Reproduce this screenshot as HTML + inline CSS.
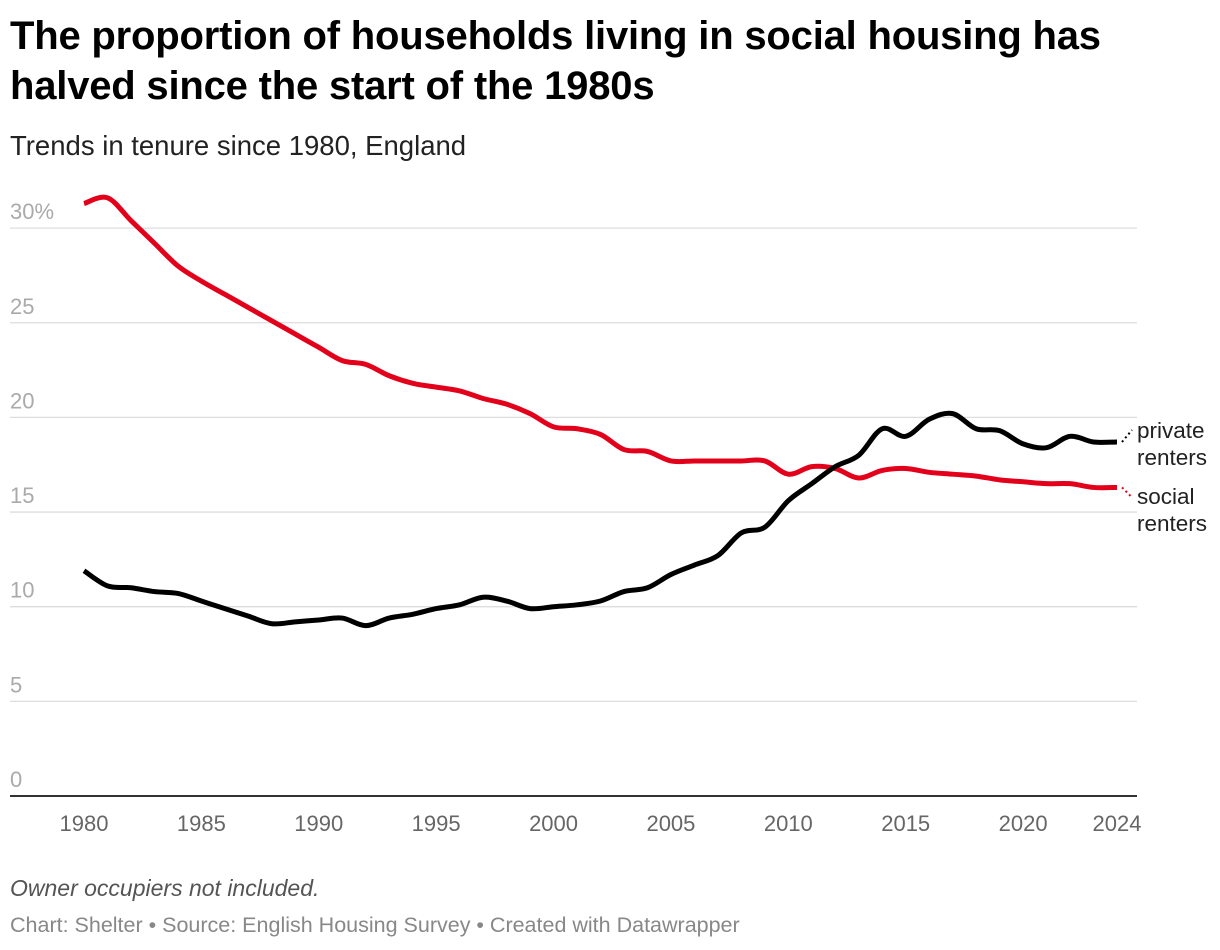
<!DOCTYPE html>
<html><head><meta charset="utf-8"><style>
body{margin:0;background:#fff;font-family:"Liberation Sans",sans-serif;}
#wrap{position:relative;width:1220px;height:950px;overflow:hidden;}
h1{position:absolute;left:10px;top:11px;margin:0;font-size:40px;line-height:50px;font-weight:bold;color:#000;width:1150px;letter-spacing:-0.2px}
.sub{position:absolute;left:10px;top:130px;font-size:27.5px;color:#222}
.note{position:absolute;left:10px;top:875px;font-size:23px;font-style:italic;color:#555}
.src{position:absolute;left:10px;top:913px;font-size:21.5px;color:#888}
svg{position:absolute;left:0;top:0}
</style></head><body><div id="wrap">
<h1>The proportion of households living in social housing has halved since the start of the 1980s</h1>
<div class="sub">Trends in tenure since 1980, England</div>
<svg id="svg" width="1220" height="950"></svg>
<div class="note">Owner occupiers not included.</div>
<div class="src">Chart: Shelter • Source: English Housing Survey • Created with Datawrapper</div>
</div>
<script>
const years=[1980,1981,1982,1983,1984,1985,1986,1987,1988,1989,1990,1991,1992,1993,1994,1995,1996,1997,1998,1999,2000,2001,2002,2003,2004,2005,2006,2007,2008,2009,2010,2011,2012,2013,2014,2015,2016,2017,2018,2019,2020,2021,2022,2023,2024];
const social=[31.3,31.6,30.4,29.2,28.0,27.2,26.5,25.8,25.1,24.4,23.7,23.0,22.8,22.2,21.8,21.6,21.4,21.0,20.7,20.2,19.5,19.4,19.1,18.3,18.2,17.7,17.7,17.7,17.7,17.7,17.0,17.4,17.3,16.8,17.2,17.3,17.1,17.0,16.9,16.7,16.6,16.5,16.5,16.3,16.3];
const privateR=[11.9,11.1,11.0,10.8,10.7,10.3,9.9,9.5,9.1,9.2,9.3,9.4,9.0,9.4,9.6,9.9,10.1,10.5,10.3,9.9,10.0,10.1,10.3,10.8,11.0,11.7,12.2,12.7,13.9,14.2,15.6,16.5,17.4,18.0,19.4,19.0,19.9,20.2,19.4,19.3,18.6,18.4,19.0,18.7,18.7];
const yTicks=[0,5,10,15,20,25,30];
const yTickLabels=["0","5","10","15","20","25","30%"];
const xTicks=[1980,1985,1990,1995,2000,2005,2010,2015,2020,2024];
const NS="http://www.w3.org/2000/svg";
const svg=document.getElementById('svg');
const x=v=>84+(v-1980)*(1117-84)/44;
const y=v=>796-v*18.93;
function mk(t,a){const e=document.createElementNS(NS,t);for(const k in a)e.setAttribute(k,a[k]);svg.appendChild(e);return e;}
yTicks.forEach((t,i)=>{
 const g=mk('line',{x1:10,x2:1137,y1:y(t),y2:y(t),stroke:t===0?'#333':'#ddd','stroke-width':t===0?2:1.3});
 
 
 const tx=mk('text',{x:10,y:y(t)-9,fill:'#aaa','font-size':22,'font-family':'Liberation Sans, sans-serif'});
 tx.textContent=yTickLabels[i];
 
 
});
xTicks.forEach(t=>{
 const tx=mk('text',{x:x(t),y:831,fill:'#666','font-size':22,'text-anchor':'middle','font-family':'Liberation Sans, sans-serif'});
 tx.textContent=t;
 
 
});
function path(vals){
 const p=vals.map((v,i)=>[x(years[i]),y(v)]);
 let d='M'+p[0][0]+','+p[0][1];
 for(let i=0;i<p.length-1;i++){
  const p0=p[i-1]||p[i],p1=p[i],p2=p[i+1],p3=p[i+2]||p2;
  const c1=[p1[0]+(p2[0]-p0[0])/6,p1[1]+(p2[1]-p0[1])/6];
  const c2=[p2[0]-(p3[0]-p1[0])/6,p2[1]-(p3[1]-p1[1])/6];
  d+=' C'+c1+' '+c2+' '+p2;
 }
 return d;
}
const ps=mk('path',{d:path(social),fill:'none',stroke:'#e3001b','stroke-width':5,'stroke-linejoin':'round'});


const pp=mk('path',{d:path(privateR),fill:'none',stroke:'#000','stroke-width':5,'stroke-linejoin':'round'});


const lastP=privateR[privateR.length-1], lastS=social[social.length-1];
const c1=mk('line',{x1:x(2024)+5,y1:y(lastP),x2:1132,y2:y(lastP)-12,stroke:'#000','stroke-width':2,'stroke-dasharray':'2,3'});


const c2=mk('line',{x1:x(2024)+5,y1:y(lastS),x2:1132,y2:y(lastS)+10,stroke:'#e3001b','stroke-width':2,'stroke-dasharray':'2,3'});


[['private',438],['renters',465]].forEach(([t,yy])=>{const e=mk('text',{x:1137,y:yy,'font-size':22.5,fill:'#222','font-family':'Liberation Sans, sans-serif'});e.textContent=t;

});
[['social',504],['renters',531]].forEach(([t,yy])=>{const e=mk('text',{x:1137,y:yy,'font-size':22.5,fill:'#222','font-family':'Liberation Sans, sans-serif'});e.textContent=t;

});
</script></body></html>
